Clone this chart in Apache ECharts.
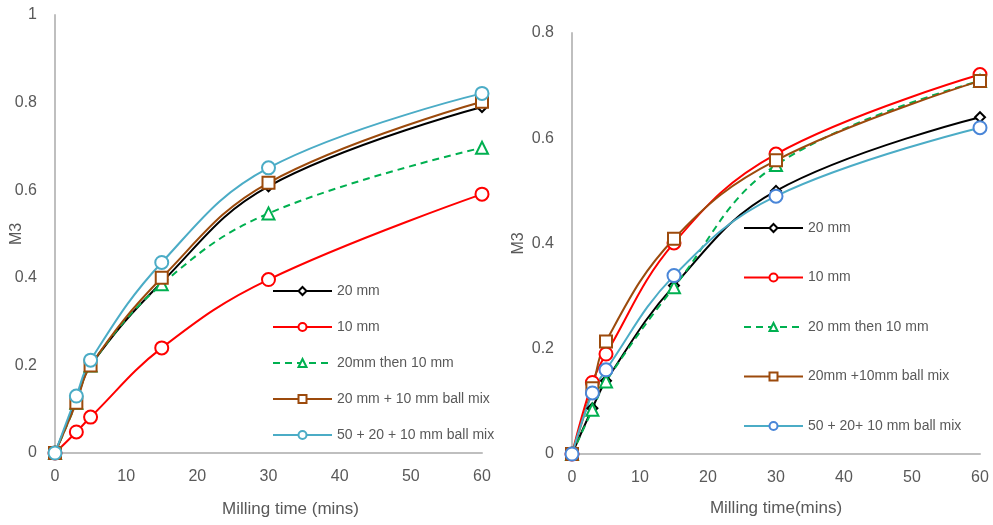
<!DOCTYPE html>
<html>
<head>
<meta charset="utf-8">
<script src="https://cdn.jsdelivr.net/npm/echarts@6/dist/echarts.min.js"></script>
<style>
  html, body { margin: 0; padding: 0; background: #fff; }
  #chart { width: 993px; height: 525px; }
</style>
</head>
<body>
<div id="chart"></div>
<script>
// milling time (mins), shared by both panels
var millingTime = [0, 3, 5, 15, 30, 60];

// left panel
var leftNames = ['20 mm', '10 mm', '20mm then 10 mm', '20 mm + 10 mm ball mix', '50 + 20 + 10 mm ball mix'];
var left20mm = [0, 0.12, 0.2, 0.39, 0.609, 0.79];
var left10mm = [0, 0.048, 0.082, 0.24, 0.396, 0.591];
var leftThen = [0, 0.115, 0.2, 0.385, 0.547, 0.697];
var leftMix2 = [0, 0.115, 0.2, 0.4, 0.617, 0.802];
var leftMix3 = [0, 0.13, 0.212, 0.435, 0.651, 0.821];

// right panel
var rightNames = ['20 mm', '10 mm', '20 mm then 10 mm', '20mm +10mm ball mix', '50 + 20+ 10 mm ball mix'];
var right20mm = [0, 0.087, 0.139, 0.32, 0.5, 0.64];
var right10mm = [0, 0.136, 0.19, 0.401, 0.57, 0.721];
var rightThen = [0, 0.084, 0.138, 0.317, 0.549, 0.709];
var rightMix2 = [0, 0.125, 0.214, 0.409, 0.558, 0.709];
var rightMix3 = [0, 0.116, 0.16, 0.339, 0.49, 0.62];

var textColor = '#595959';
var axisGray = '#BFBFBF';
var font = 'Liberation Sans, Arial, sans-serif';

var styles = [
  { symbol: 'emptyDiamond', size: 10, line: '#000000', mark: '#000000', dash: 'solid' },
  { symbol: 'emptyCircle', size: 13, line: '#FF0000', mark: '#FF0000', dash: 'solid' },
  { symbol: 'emptyTriangle', size: 12, line: '#00B050', mark: '#00B050', dash: [7, 5] },
  { symbol: 'emptyRect', size: 12, line: '#9C4A0C', mark: '#9C4A0C', dash: 'solid' },
  { symbol: 'emptyCircle', size: 13, line: '#4BACC6', mark: '#4BACC6', dash: 'solid' }
];

function pairs(ys) {
  return millingTime.map(function (x, i) { return [x, ys[i]]; });
}

function makeSeries(names, values, axisIndex, markOverride) {
  return names.map(function (name, i) {
    var st = styles[i];
    var mark = (markOverride && markOverride[i]) || st.mark;
    return {
      name: name,
      type: 'line',
      xAxisIndex: axisIndex,
      yAxisIndex: axisIndex,
      data: pairs(values[i]),
      smooth: 0.4,
      symbol: st.symbol,
      symbolSize: st.size,
      showAllSymbol: true,
      clip: false,
      animation: false,
      lineStyle: { color: st.line, width: 2, type: st.dash },
      itemStyle: { color: mark, borderWidth: 1.6 }
    };
  });
}

function xAxis(gridIndex, name, gap, pad) {
  return {
    type: 'value', gridIndex: gridIndex, min: 0, max: 60, interval: 10,
    name: name, nameLocation: 'middle', nameGap: gap, nameMoveOverlap: false,
    nameTextStyle: { color: textColor, fontSize: 17, fontFamily: font, padding: pad },
    axisLine: { show: true, lineStyle: { color: axisGray, width: 2 } },
    axisTick: { show: false },
    splitLine: { show: false },
    axisLabel: { color: textColor, fontSize: 16, fontFamily: font, margin: 16 }
  };
}

function yAxis(gridIndex, max, gap) {
  return {
    type: 'value', gridIndex: gridIndex, min: 0, max: max, interval: 0.2,
    name: 'M3', nameLocation: 'middle', nameGap: gap, nameMoveOverlap: false,
    nameTextStyle: { color: textColor, fontSize: 16, fontFamily: font },
    axisLine: { show: true, lineStyle: { color: axisGray, width: 2 } },
    axisTick: { show: false },
    splitLine: { show: false },
    axisLabel: { color: textColor, fontSize: 16, fontFamily: font, margin: 18 }
  };
}

function legend(names, left, top, gap) {
  return {
    data: names, orient: 'vertical', left: left, top: top,
    itemWidth: 59, itemHeight: 10, itemGap: gap,
    selectedMode: false,
    textStyle: { color: textColor, fontSize: 14, fontFamily: font }
  };
}

var chart = echarts.init(document.getElementById('chart'), null, { renderer: 'canvas' });

var series = makeSeries(leftNames, [left20mm, left10mm, leftThen, leftMix2, leftMix3], 0)
  .concat(makeSeries(rightNames, [right20mm, right10mm, rightThen, rightMix2, rightMix3], 1,
    [null, null, null, null, '#4A86D8']));

chart.setOption({
  backgroundColor: '#ffffff',
  animation: false,
  grid: [
    { left: 55, top: 15, width: 427, height: 438, outerBoundsMode: 'none' },
    { left: 572, top: 33, width: 408, height: 421, outerBoundsMode: 'none' }
  ],
  xAxis: [
    xAxis(0, 'Milling time (mins)', 48, [0, 0, 0, 44]),
    xAxis(1, 'Milling time(mins)', 46, [0, 0, 0, 0])
  ],
  yAxis: [yAxis(0, 1, 30), yAxis(1, 0.8, 45)],
  legend: [
    legend(leftNames, 267, 279, 22),
    legend(rightNames, 738, 216, 35.5)
  ],
  series: series
});
</script>
</body>
</html>
